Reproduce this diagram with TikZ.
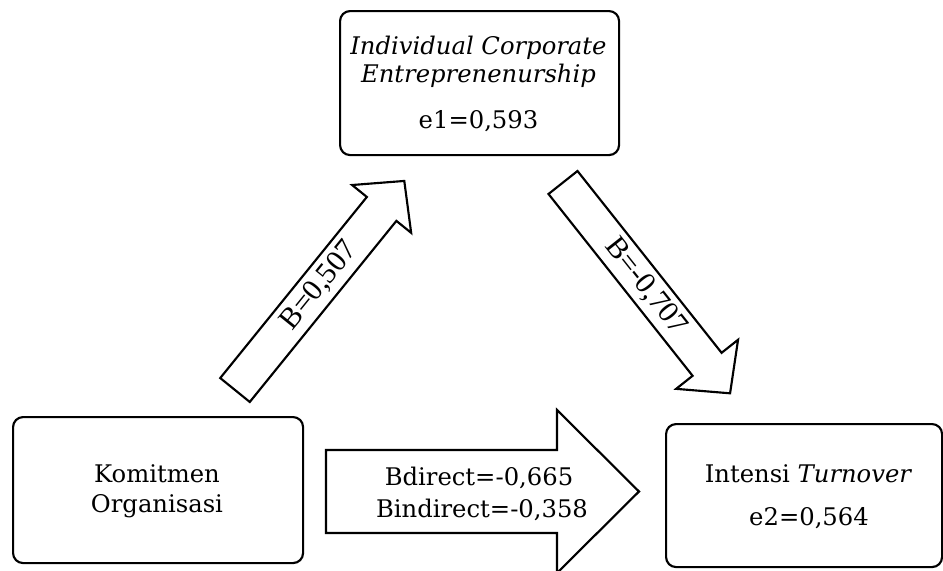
\documentclass[tikz,border=0pt]{standalone}
\usepackage{fontspec}
\setmainfont{DejaVu Serif}
\newfontfamily\timesfont{Liberation Serif}
\begin{document}
\begin{tikzpicture}[x=0.75pt,y=-0.75pt,
  box/.style={draw, line width=1.6pt, rounded corners=7.5pt, anchor=north west, inner sep=0pt},
  blk/.style={draw, line width=1.6pt, fill=white, line join=miter},
  lbl/.style={anchor=base, inner sep=0pt, font=\fontsize{18.2}{22}\selectfont},
  rlbl/.style={inner sep=0pt, font=\timesfont\fontsize{22.5}{26}\selectfont}]
\useasboundingbox (0,0) rectangle (943,571);
% boxes
\node[box, minimum width=209.25pt, minimum height=108pt] (ice) at (339,10) {};
\node[box, minimum width=217.5pt, minimum height=109.5pt] (ko) at (12,416) {};
\node[box, minimum width=207pt, minimum height=107.25pt] (it) at (665,423) {};
% box texts
\node[lbl] (ice1) at (478.5,55) {\itshape Individual Corporate};
\node[lbl] (ice2) at (478.5,82) {\itshape Entreprenenurship};
\node[lbl] (ice3) at (478.5,128) {e1=0,593};
\node[lbl] (ko1) at (157,482) {Komitmen};
\node[lbl] (ko2) at (157,512) {Organisasi};
\node[lbl] (it1) at (808.5,482) {Intensi \textit{Turnover}};
\node[lbl] (it2) at (809,525) {e2=0,564};
% up arrow
\begin{scope}[shift={(235,390)}, rotate=51]
  \draw[blk] (0,-19) -- (233,-19) -- (233,-38) -- (269,0) -- (233,38) -- (233,19) -- (0,19) -- cycle;
  \node[rlbl, rotate=51] (b1) at (134,0) {B=0,507};
\end{scope}
% down arrow
\begin{scope}[shift={(563,182.5)}, rotate=-51.6]
  \draw[blk] (0,-18.5) -- (232,-18.5) -- (232,-39.5) -- (269,0) -- (232,39.5) -- (232,18.5) -- (0,18.5) -- cycle;
  \node[rlbl, rotate=-51.6] (b2) at (133,0) {B=-0,707};
\end{scope}
% horizontal arrow
\draw[blk] (326,450) -- (557,450) -- (557,410) -- (639,491.5) -- (557,573) -- (557,533) -- (326,533) -- cycle;
\node[lbl] (bd) at (479,485) {Bdirect=-0,665};
\node[lbl] (bi) at (482,517) {Bindirect=-0,358};
\end{tikzpicture}
\end{document}
